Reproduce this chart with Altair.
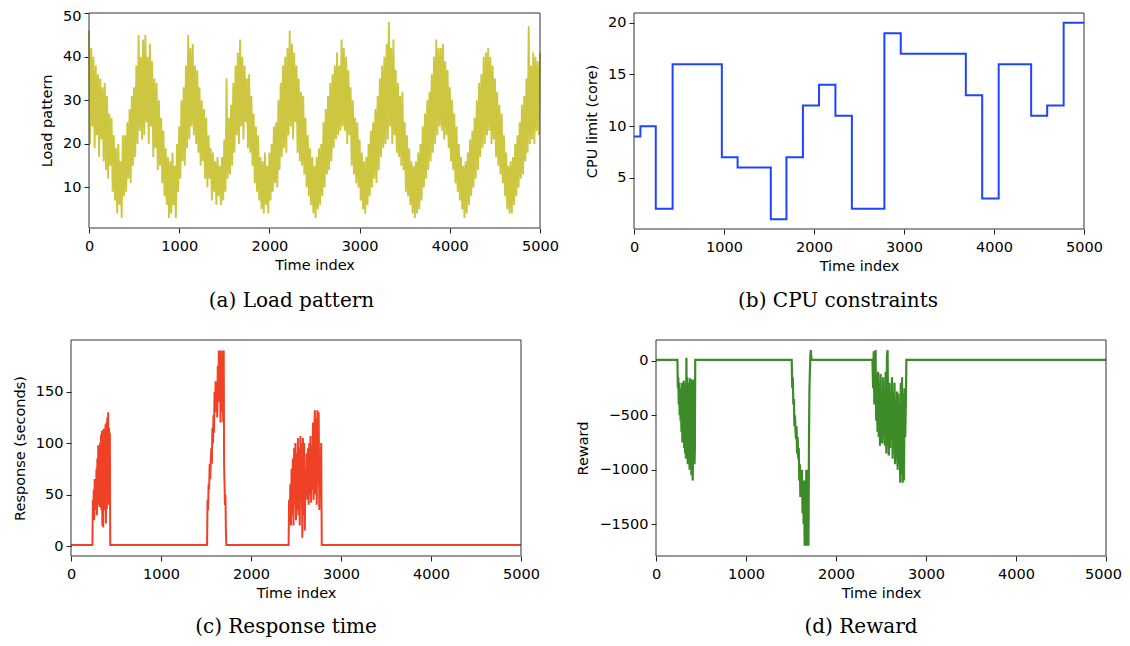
import altair as alt
import pandas as pd

# ---------------- data ----------------
# (a) load pattern, sampled every 12.5 time units
load_step = 12.5
load_values = [
    46, 20, 42, 24, 40, 19, 38, 22,
    36, 17, 35, 21, 33, 16, 34, 14,
    31, 12, 27, 15, 26, 9, 22, 7,
    19, 4, 20, 6, 16, 3, 22, 8,
    22, 9, 25, 12, 28, 11, 31, 15,
    33, 17, 38, 20, 45, 23, 40, 21,
    44, 22, 45, 25, 40, 20, 43, 24,
    39, 17, 35, 19, 34, 14, 30, 15,
    26, 11, 23, 8, 19, 6, 17, 3,
    16, 4, 18, 6, 15, 3, 20, 9,
    24, 12, 30, 16, 33, 15, 38, 19,
    45, 21, 42, 24, 43, 22, 38, 20,
    37, 18, 33, 15, 30, 16, 28, 12,
    26, 10, 22, 12, 19, 7, 18, 9,
    16, 6, 17, 8, 15, 6, 17, 7,
    21, 9, 35, 12, 26, 13, 29, 15,
    34, 18, 38, 22, 41, 20, 44, 24,
    40, 21, 38, 25, 35, 19, 36, 18,
    31, 15, 27, 11, 24, 9, 22, 7,
    17, 5, 16, 4, 18, 6, 15, 4,
    18, 7, 20, 9, 24, 11, 25, 10,
    30, 14, 34, 17, 38, 19, 40, 18,
    42, 22, 46, 24, 43, 21, 41, 25,
    38, 18, 35, 16, 32, 15, 31, 13,
    26, 10, 22, 8, 19, 6, 17, 4,
    15, 3, 17, 5, 19, 6, 20, 8,
    25, 10, 28, 13, 31, 14, 34, 16,
    36, 19, 38, 21, 41, 22, 38, 23,
    44, 24, 42, 23, 40, 20, 37, 22,
    33, 15, 30, 13, 26, 11, 25, 10,
    21, 7, 18, 5, 16, 4, 17, 6,
    20, 8, 23, 10, 25, 12, 28, 11,
    31, 14, 35, 17, 38, 19, 40, 20,
    43, 21, 48, 24, 42, 20, 44, 22,
    37, 18, 34, 17, 31, 15, 32, 14,
    25, 9, 22, 8, 19, 6, 16, 4,
    15, 3, 16, 4, 18, 5, 20, 7,
    24, 10, 27, 12, 30, 14, 32, 16,
    36, 18, 40, 20, 44, 22, 42, 24,
    42, 23, 43, 21, 39, 22, 37, 19,
    33, 16, 30, 14, 27, 11, 24, 9,
    20, 7, 17, 5, 15, 3, 16, 4,
    18, 6, 21, 8, 23, 10, 26, 12,
    30, 14, 34, 17, 36, 19, 40, 20,
    41, 22, 42, 23, 40, 20, 38, 21,
    35, 17, 32, 15, 29, 13, 27, 11,
    22, 8, 18, 5, 15, 4, 16, 4,
    17, 6, 20, 8, 22, 10, 25, 12,
    29, 13, 31, 16, 35, 18, 47, 20,
    38, 21, 41, 20, 40, 23, 39, 22,
    41,
]
load_t = [i * load_step for i in range(len(load_values))]

# (b) CPU limit steps (value holds from each change point)
cpu_t = [0, 71, 242, 429, 976, 1151, 1520, 1694, 1877, 2056, 2238, 2421,
         2782, 2964, 3687, 3869, 4052, 4413, 4591, 4774, 5000]
cpu_v = [9, 10, 2, 16, 7, 6, 1, 7, 12, 14, 11, 2,
         19, 17, 13, 3, 16, 11, 12, 20, 20]

# (c) response time (seconds)
resp_t = [0, 238,
          243, 248, 253, 258, 263, 268, 273, 278, 283, 288, 293, 298, 303, 308,
          313, 318, 323, 328, 333, 338, 343, 348, 353, 358, 363, 368, 373, 378,
          383, 388, 393, 398, 403, 408, 413, 418, 423, 428, 432,
          436, 1512,
          1517, 1523, 1529, 1535, 1541, 1547, 1553, 1559, 1565, 1571, 1577, 1583,
          1589, 1595, 1601, 1607, 1613, 1619, 1625, 1631, 1637, 1643, 1649, 1655,
          1661, 1667, 1673, 1679, 1685, 1691, 1697, 1701, 1706, 1711, 1716, 1721,
          1726, 2418,
          2423, 2430, 2437, 2444, 2451, 2458, 2465, 2472, 2479, 2486, 2493, 2500,
          2507, 2514, 2521, 2528, 2535, 2542, 2549, 2556, 2563, 2570, 2577, 2584,
          2591, 2598, 2605, 2612, 2619, 2626, 2633, 2640, 2647, 2654, 2661, 2668,
          2675, 2682, 2689, 2696, 2703, 2710, 2717, 2724, 2731, 2738, 2745, 2752,
          2759, 2766, 2773, 2780,
          2786, 5000]
resp_v = [1, 1,
          45, 30, 55, 25, 65, 35, 60, 40, 75, 30, 85, 45, 98, 40,
          90, 38, 100, 45, 108, 35, 112, 20, 105, 18, 114, 35, 110, 40,
          118, 22, 120, 36, 125, 50, 130, 40, 115, 60, 110,
          1, 1,
          45, 35, 60, 55, 80, 65, 82, 95, 80, 115, 100, 127,
          110, 150, 130, 160, 135, 155, 125, 175, 140, 190, 150, 190,
          120, 185, 130, 190, 160, 120, 190, 80, 60, 40, 50, 15,
          1, 1,
          45, 25, 60, 20, 75, 30, 85, 20, 95, 40, 100, 25,
          90, 35, 105, 30, 95, 20, 107, 45, 100, 8, 105, 30,
          100, 15, 70, 50, 90, 45, 95, 40, 100, 50, 107, 42,
          98, 55, 120, 45, 110, 132, 50, 125, 40, 132, 60, 130,
          35, 90, 70, 100,
          1, 1]

# (d) reward
rew_t = [0, 238,
         243, 248, 253, 258, 263, 268, 273, 278, 283, 288, 293, 298, 303, 308,
         313, 318, 323, 328, 333, 338, 343, 348, 353, 358, 363, 368, 373, 378,
         383, 388, 393, 398, 403, 408, 413, 418, 423, 428, 432,
         436, 1508,
         1514, 1520, 1526, 1532, 1538, 1544, 1550, 1556, 1562, 1568, 1574, 1580,
         1586, 1592, 1598, 1604, 1610, 1616, 1622, 1628, 1634, 1640, 1646, 1652,
         1658, 1664, 1670, 1676, 1682, 1688, 1694, 1700, 1705, 1710, 1715, 1720,
         1726, 1732, 2405,
         2412, 2419, 2426, 2433, 2440, 2447, 2454, 2461, 2468, 2475, 2482, 2489,
         2496, 2503, 2510, 2517, 2524, 2531, 2538, 2545, 2552, 2559, 2566, 2573,
         2580, 2587, 2594, 2601, 2608, 2615, 2622, 2629, 2636, 2643, 2650, 2657,
         2664, 2671, 2678, 2685, 2692, 2699, 2706, 2713, 2720, 2727, 2734, 2741,
         2748, 2755, 2762, 2769, 2776,
         2782, 5000]
rew_v = [10, 10,
         -250, -150, -400, -200, -500, -250, -550, -300, -650, -200, -750, -350, -700, -180,
         -800, -300, -850, -200, -900, 30, -850, -150, -950, -200, -900, -300, -1000, -160,
         -950, -400, -1050, -170, -1000, -1100, -600, -900, -170, -950, -800,
         10, 10,
         -250, -150, -400, -350, -600, -500, -650, -720, -600, -850, -700, -900,
         -800, -1100, -950, -1250, -1050, -1200, -1000, -1400, -1100, -1500, -1250, -1700,
         -1100, -1650, -1000, -1700, -1350, -1000, -1700, -700, -250, -100, 50, 100,
         30, 10, 10,
         -250, 90, -400, -100, 100, -550, -150, -650, -100, -700, -200, -780,
         -120, -750, -300, -760, -150, -700, -250, -780, -100, -850, 50, 100,
         -600, -870, -200, -800, -300, -650, -150, -900, -300, -800, -200, -950,
         -350, -900, -280, -1000, -300, -950, -400, -1120, -200, -1050, -150, -1120,
         -300, -1100, -250, -700, -400,
         10, 10]

x_ticks = [0, 1000, 2000, 3000, 4000, 5000]

# ---------------- layout ----------------
W, H = 1114, 630
OX, OY = 8, 8  # page margin

AX = dict(labelFont="DejaVu Sans", labelFontSize=14.5, labelColor="black",
          titleFont="DejaVu Sans", titleFontSize=14.5, titleFontWeight="normal",
          titleColor="black", tickColor="#222", tickSize=5, tickWidth=1,
          domain=False, grid=False)


def edge_offset(value, off):
    if not off:
        return 0
    return {"condition": {"test": f"datum.value == {value}", "value": off},
            "value": 0}


def panel(t, v, xr, yr, ydom, yticks, color, ytitle, sw, interp="linear",
          ytop_off=0, xlab_off=0):
    xr_g = [xr[0] - OX, xr[1] - OX]
    yr_g = [yr[0] - OY, yr[1] - OY]
    xscale = alt.Scale(domain=[0, 5000], range=xr_g, nice=False, zero=False)
    yscale = alt.Scale(domain=ydom, range=yr_g, nice=False, zero=False)
    xaxis = alt.Axis(orient="bottom", offset=yr_g[0] - H, values=x_ticks,
                     format="d", title="Time index", labelPadding=6,
                     titlePadding=6, labelFlush=False,
                     labelOffset=edge_offset(5000, xlab_off), **AX)
    yaxis = alt.Axis(orient="left", offset=-xr_g[0], values=yticks,
                     format="d", title=ytitle, labelPadding=3,
                     titlePadding=8, labelFlush=False,
                     labelOffset=edge_offset(max(yticks), ytop_off), **AX)
    df = pd.DataFrame({"t": t, "v": v})
    line = alt.Chart(df).mark_line(color=color, strokeWidth=sw,
                                   interpolate=interp).encode(
        x=alt.X("t:Q", scale=xscale, axis=xaxis),
        y=alt.Y("v:Q", scale=yscale, axis=yaxis),
    )
    fdf = pd.DataFrame({"t": [0], "t2": [5000], "v": [ydom[0]], "v2": [ydom[1]]})
    frame = alt.Chart(fdf).mark_rect(filled=False, stroke="#333",
                                     strokeWidth=1).encode(
        x=alt.X("t:Q", scale=xscale, axis=xaxis),
        x2="t2:Q",
        y=alt.Y("v:Q", scale=yscale, axis=yaxis),
        y2="v2:Q",
    )
    return alt.layer(line, frame)


pa = panel(load_t, load_values, [89, 540], [228, 13], [0.69, 50.07],
           [10, 20, 30, 40, 50], "#cdc640", "Load pattern", 1.9, ytop_off=3)
pb = panel(cpu_t, cpu_v, [634, 1084], [229, 13], [0.05, 20.95],
           [5, 10, 15, 20], "#1f44ff", "CPU limit (core)", 2, "step-after")
pc = panel(resp_t, resp_v, [71, 521], [556, 340], [-9.7, 200.2],
           [0, 50, 100, 150], "#ee4125", "Response (seconds)", 2)
pd_ = panel(rew_t, rew_v, [656, 1106], [556, 340], [-1794, 193],
            [0, -500, -1000, -1500], "#3c8b28", "Reward", 2.2, xlab_off=-3)

captions = ["(a) Load pattern", "(b) CPU constraints",
            "(c) Response time", "(d) Reward"]
cap_x = [291.5, 838, 286, 861]
cap_y = [307, 307, 632.5, 632.5]

cap_layers = []
for txt, cx, cy in zip(captions, cap_x, cap_y):
    cap_layers.append(
        alt.Chart(pd.DataFrame({"k": [0]})).mark_text(
            text=txt, font="DejaVu Serif", fontSize=20, color="black",
            align="center", baseline="alphabetic",
        ).encode(x=alt.value(cx - OX), y=alt.value(cy - OY))
    )

chart = alt.layer(pa, pb, pc, pd_, *cap_layers).resolve_scale(
    x="independent", y="independent"
).properties(
    width=W, height=H, padding=0,
    autosize=alt.AutoSizeParams(type="none"),
).configure_view(stroke=None)

chart.save("out.html", embed_options={"renderer": "svg", "actions": False})
